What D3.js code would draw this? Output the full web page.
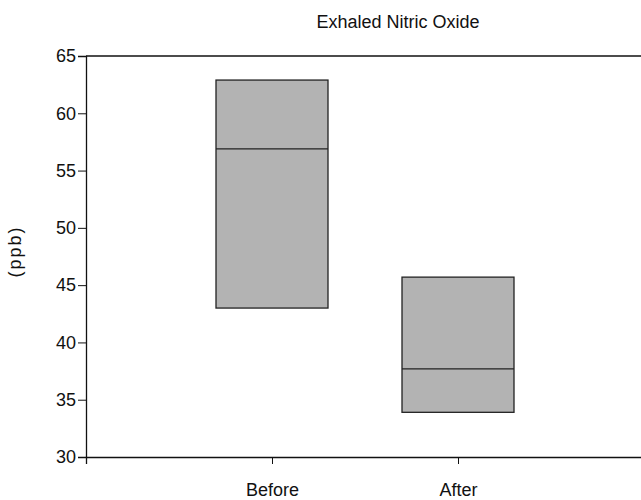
<!DOCTYPE html>
<html>
<head>
<meta charset="utf-8">
<script src="https://cdn.jsdelivr.net/npm/d3@7"></script>
<style>
  body { margin: 0; background: #fff; }
  text { font-family: "Liberation Sans", Arial, sans-serif; fill: #111; }
</style>
</head>
<body>
<figure id="exhaled" style="margin:0"></figure>
<script>
// data
var groups = ["Before", "After"];
var boxLow = [43.0, 33.9];
var boxMedian = [56.9, 37.7];
var boxHigh = [62.9, 45.7];
var yTicks = [30, 35, 40, 45, 50, 55, 60, 65];

// set the dimensions and margins of the graph
var margin = {top: 56, right: -3, bottom: 43, left: 86},
    width = 641 - margin.left - margin.right,
    height = 500 - margin.top - margin.bottom;

var svg = d3.select("figure#exhaled")
    .append("svg")
    .attr("width", 641)
    .attr("height", 500)
    .append("g")
    .attr("transform", "translate(" + margin.left + "," + margin.top + ")");

// categories sit on ticks 1 and 2 of a 0..3 axis
var xScale = d3.scaleLinear()
    .domain([0, groups.length + 1])
    .range([0, width]);

var yScale = d3.scaleLinear()
    .domain([30, 65])
    .range([height, 0]);

var boxWidth = 112;

// top frame line
svg.append("line")
    .attr("x1", 0).attr("x2", width)
    .attr("y1", yScale(65)).attr("y2", yScale(65))
    .attr("stroke", "#111").attr("stroke-width", 1.3);

// y axis
var yAxis = svg.append("g")
    .call(d3.axisLeft(yScale).tickValues(yTicks).tickSize(8).tickPadding(2));
yAxis.select(".domain").attr("stroke", "#111").attr("stroke-width", 1.3);
yAxis.selectAll(".tick line").attr("stroke", "#111");
yAxis.selectAll("text").style("font-size", "18px");

// x axis
var xAxis = svg.append("g")
    .attr("transform", "translate(0," + height + ")")
    .call(d3.axisBottom(xScale).tickValues([0, 1, 2, 3]).tickSize(7)
        .tickFormat(function(d) { return groups[d - 1] || ""; }).tickPadding(19));
xAxis.select(".domain").attr("stroke", "#111").attr("stroke-width", 1.3);
xAxis.selectAll(".tick line").attr("stroke", "#111");
xAxis.selectAll("text").style("font-size", "18px");

// boxes
var boxes = svg.selectAll("g.box")
    .data(groups)
    .enter()
    .append("g")
    .attr("class", "box");

boxes.append("rect")
    .attr("x", function(d, i) { return xScale(i + 1) - boxWidth / 2; })
    .attr("y", function(d, i) { return yScale(boxHigh[i]); })
    .attr("width", boxWidth)
    .attr("height", function(d, i) { return yScale(boxLow[i]) - yScale(boxHigh[i]); })
    .attr("fill", "#b3b3b3")
    .attr("stroke", "#222")
    .attr("stroke-width", 1.3);

boxes.append("line")
    .attr("x1", function(d, i) { return xScale(i + 1) - boxWidth / 2; })
    .attr("x2", function(d, i) { return xScale(i + 1) + boxWidth / 2; })
    .attr("y1", function(d, i) { return yScale(boxMedian[i]); })
    .attr("y2", function(d, i) { return yScale(boxMedian[i]); })
    .attr("stroke", "#222")
    .attr("stroke-width", 1.3);

// title
svg.append("text")
    .attr("x", 312)
    .attr("y", -28)
    .attr("text-anchor", "middle")
    .style("font-size", "18px")
    .text("Exhaled Nitric Oxide");

// y label
svg.append("text")
    .attr("transform", "translate(-71," + (height / 2 - 5) + ") rotate(-90)")
    .attr("text-anchor", "middle")
    .attr("dy", "0.35em")
    .style("font-size", "18px")
    .style("letter-spacing", "2px")
    .text("(ppb)");
</script>
</body>
</html>
